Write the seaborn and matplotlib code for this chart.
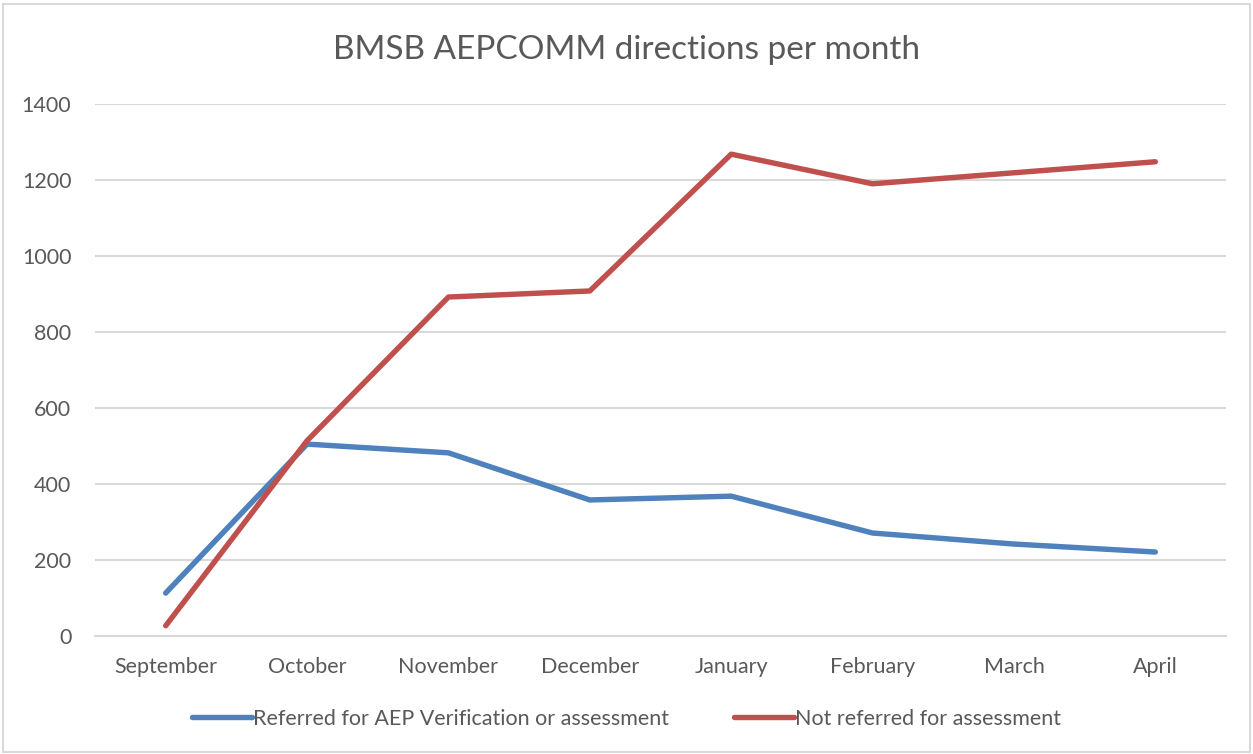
import matplotlib
matplotlib.use("Agg")
import matplotlib.pyplot as plt
import seaborn as sns
import pandas as pd
from matplotlib.patches import Rectangle
from matplotlib.lines import Line2D

months = ["September", "October", "November", "December", "January", "February", "March", "April"]
referred = [113, 505, 482, 358, 368, 271, 242, 221]
not_referred = [27, 514, 892, 908, 1268, 1190, 1219, 1248]
series_names = ["Referred for AEP Verification or assessment", "Not referred for assessment"]
yticks = [0, 200, 400, 600, 800, 1000, 1200, 1400]

df = pd.DataFrame({
    "month": months * 2,
    "x": list(range(len(months))) * 2,
    "value": referred + not_referred,
    "series": [series_names[0]] * len(months) + [series_names[1]] * len(months),
})

sns.set_theme(style="white")
plt.rcParams['font.family'] = ['Lato', 'DejaVu Sans']

fig = plt.figure(figsize=(12.53, 7.54), dpi=100)
ax = fig.add_axes([95 / 1253, (754 - 636) / 754, (1226 - 95) / 1253, (636 - 104) / 754])

palette = {series_names[0]: "#4F81BD", series_names[1]: "#C0504D"}
sns.lineplot(data=df, x="x", y="value", hue="series", palette=palette, ax=ax,
             linewidth=3.9, legend=False, sort=False)
for l in ax.lines:
    l.set_solid_capstyle("round")
    l.set_solid_joinstyle("round")

ax.set_xlim(-0.5, len(months) - 0.5)
ax.set_ylim(0, 1400)
ax.set_yticks(yticks)
ax.set_yticklabels([str(v) for v in yticks])
ax.set_xticks(range(len(months)))
ax.set_xticklabels(months)
ax.yaxis.grid(True, color="#D9D9D9", linewidth=1.5)
ax.set_axisbelow(True)
for s in ["top", "right", "left"]:
    ax.spines[s].set_visible(False)
ax.spines["bottom"].set_color("#D9D9D9")
ax.spines["bottom"].set_linewidth(1.5)
ax.tick_params(axis="both", length=0, labelsize=15.5, colors="#595959")
ax.tick_params(axis="x", pad=15)
ax.tick_params(axis="y", pad=17)
ax.set_xlabel("")
ax.set_ylabel("")

fig.text(0.5, (754 - 50) / 754, "BMSB AEPCOMM directions per month", ha="center", va="center",
         fontsize=24, color="#595959")

handles = [Line2D([], [], color=palette[n], linewidth=3.9, solid_capstyle="round") for n in series_names]
fig.legend(handles, series_names, loc="center", bbox_to_anchor=(0.5, (754 - 719) / 754), ncol=2,
           frameon=False, fontsize=15.5, labelcolor="#595959", handlelength=2.8,
           handletextpad=0.05, columnspacing=3.0)

fig.patches.append(Rectangle((0.002, 0.002), 0.996, 0.993, transform=fig.transFigure,
                             fill=False, edgecolor="#D9D9D9", linewidth=1.5))

fig.savefig("out.png", dpi=100, facecolor="white")
